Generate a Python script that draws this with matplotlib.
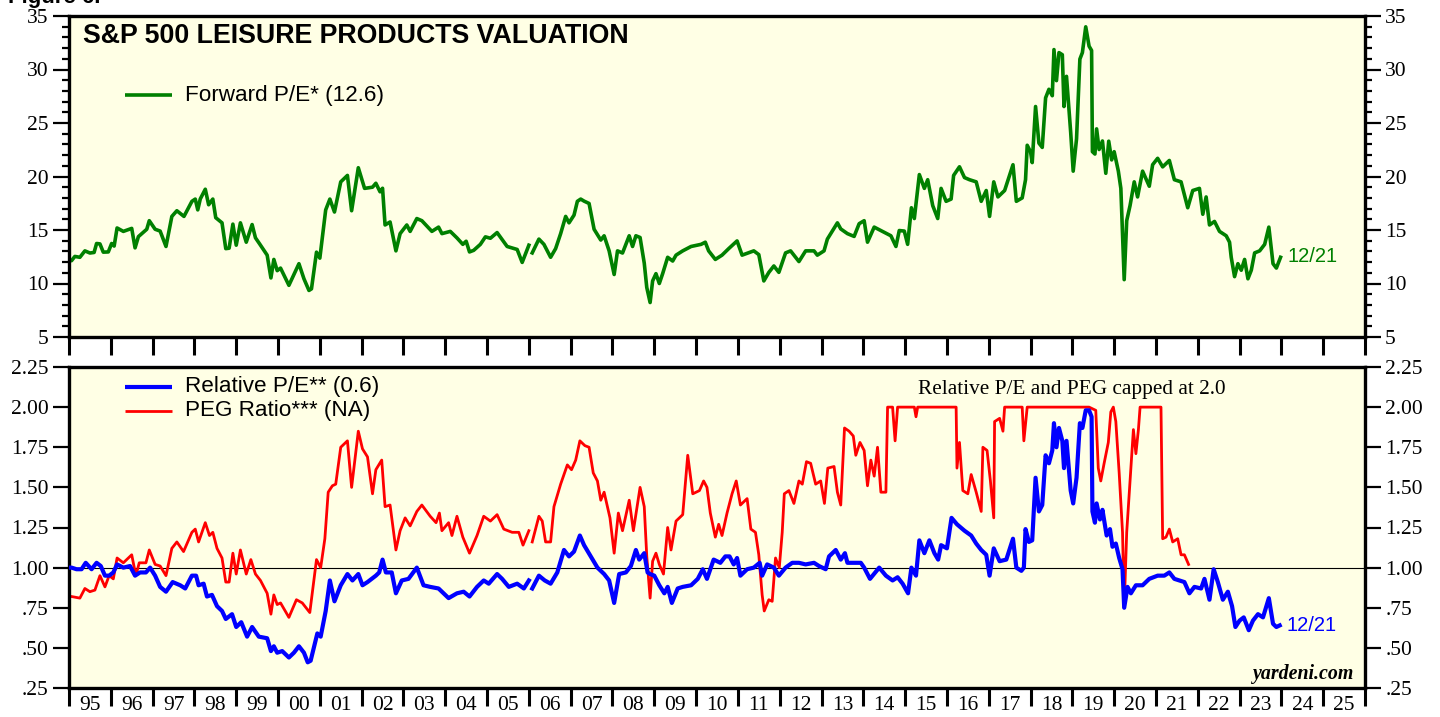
import numpy as np
import matplotlib
matplotlib.use("Agg")
import matplotlib.pyplot as plt
from matplotlib.ticker import MultipleLocator, FixedLocator, NullFormatter, FixedFormatter

nan = float("nan")

# ---------------- data (decimal years) ----------------
fpe_dates = [1995.0, 1995.06, 1995.14, 1995.26, 1995.38, 1995.5, 1995.6, 1995.66, 1995.74, 1995.82, 1995.94,
             1996.02, 1996.08, 1996.15, 1996.3, 1996.5, 1996.58, 1996.66, 1996.86, 1996.92, 1997.06, 1997.18,
             1997.32, 1997.46, 1997.58, 1997.75, 1997.94, 1998.02, 1998.08, 1998.14, 1998.26, 1998.34, 1998.44,
             1998.51, 1998.66, 1998.75, 1998.83, 1998.92, 1999.0, 1999.1, 1999.24, 1999.38, 1999.46, 1999.56,
             1999.74, 1999.83, 1999.9, 1999.98, 2000.06, 2000.26, 2000.38, 2000.5, 2000.62, 2000.74, 2000.8,
             2000.92, 2001.0, 2001.14, 2001.24, 2001.35, 2001.5, 2001.66, 2001.76, 2001.92, 2002.07, 2002.26,
             2002.34, 2002.44, 2002.5, 2002.56, 2002.68, 2002.82, 2002.92, 2003.08, 2003.16, 2003.32, 2003.44,
             2003.68, 2003.84, 2003.92, 2004.12, 2004.28, 2004.42, 2004.5, 2004.58, 2004.68, 2004.84, 2004.96,
             2005.08, 2005.24, 2005.48, 2005.72, 2005.84, 2006.0, 2006.04, 2006.08, 2006.24, 2006.36, 2006.52,
             2006.64, 2006.76, 2006.88, 2006.96, 2007.08, 2007.16, 2007.24, 2007.32, 2007.44, 2007.56, 2007.72,
             2007.8, 2007.92, 2008.04, 2008.12, 2008.24, 2008.4, 2008.48, 2008.56, 2008.66, 2008.76, 2008.82,
             2008.9, 2008.96, 2009.04, 2009.12, 2009.2, 2009.32, 2009.44, 2009.52, 2009.68, 2009.88, 2010.12,
             2010.22, 2010.3, 2010.46, 2010.62, 2010.78, 2010.98, 2011.1, 2011.38, 2011.5, 2011.62, 2011.74,
             2011.86, 2011.98, 2012.14, 2012.26, 2012.46, 2012.62, 2012.82, 2012.9, 2013.06, 2013.14, 2013.38,
             2013.46, 2013.62, 2013.78, 2013.9, 2014.02, 2014.1, 2014.26, 2014.46, 2014.66, 2014.78, 2014.86,
             2014.98, 2015.06, 2015.15, 2015.22, 2015.34, 2015.46, 2015.54, 2015.66, 2015.78, 2015.86, 2015.98,
             2016.1, 2016.16, 2016.3, 2016.42, 2016.54, 2016.7, 2016.82, 2016.94, 2017.02, 2017.12, 2017.22,
             2017.38, 2017.58, 2017.66, 2017.8, 2017.88, 2017.92, 2018.0, 2018.04, 2018.12, 2018.2, 2018.28,
             2018.36, 2018.44, 2018.52, 2018.56, 2018.62, 2018.68, 2018.76, 2018.8, 2018.86, 2018.96, 2019.02,
             2019.1, 2019.18, 2019.24, 2019.32, 2019.4, 2019.46, 2019.48, 2019.54, 2019.58, 2019.64, 2019.72,
             2019.8, 2019.87, 2019.94, 2020.0, 2020.1, 2020.16, 2020.22, 2020.24, 2020.3, 2020.38, 2020.48,
             2020.56, 2020.68, 2020.84, 2020.92, 2021.04, 2021.16, 2021.32, 2021.44, 2021.6, 2021.76, 2021.88,
             2022.04, 2022.12, 2022.2, 2022.28, 2022.4, 2022.52, 2022.68, 2022.76, 2022.8, 2022.88, 2022.96,
             2023.04, 2023.12, 2023.2, 2023.28, 2023.36, 2023.48, 2023.6, 2023.7, 2023.8, 2023.88, 2023.94,
             2023.98]
fpe_values = [12.2, 12.13, 12.53, 12.45, 13.05, 12.85, 12.9, 13.74, 13.7, 12.93, 12.95,
              13.74, 13.5, 15.19, 14.87, 15.15, 13.33, 14.38, 15.07, 15.87, 15.07, 14.9,
              13.46, 16.27, 16.8, 16.27, 17.68, 17.89, 16.88, 17.9, 18.81, 17.36, 17.89,
              16.15, 15.67, 13.26, 13.3, 15.55, 13.58, 15.67, 13.86, 15.51, 14.27, 13.7,
              12.65, 10.52, 12.25, 11.2, 11.44, 9.83, 10.84, 11.85, 10.44, 9.35, 9.5,
              12.93, 12.37, 16.88, 17.89, 16.68, 19.5, 20.1, 16.8, 20.82, 18.89, 19.0,
              19.37, 18.57, 18.9, 15.47, 15.75, 13.05, 14.66, 15.47, 14.87, 16.07, 15.87,
              14.87, 15.27, 14.66, 14.87, 14.26, 13.66, 13.95, 12.95, 13.1, 13.66, 14.36,
              14.23, 14.76, 13.46, 13.18, 11.97, 13.58, nan, 12.86, 14.15, 13.66, 12.45,
              13.26, 14.66, 16.27, 15.67, 16.39, 17.68, 17.89, 17.7, 17.48, 15.07, 14.06,
              14.46, 13.05, 10.84, 13.05, 12.85, 14.46, 13.46, 14.46, 14.3, 11.9, 9.63,
              8.22, 10.24, 10.92, 10.0, 10.92, 12.45, 12.1, 12.65, 13.05, 13.46, 13.66,
              13.86, 13.05, 12.25, 12.65, 13.26, 13.98, 12.65, 13.05, 12.7, 10.24, 11.04,
              11.64, 11.04, 12.86, 13.05, 12.05, 13.05, 13.05, 12.65, 13.05, 14.15, 15.67,
              15.1, 14.66, 14.4, 15.59, 15.87, 13.86, 15.27, 14.87, 14.46, 13.46, 14.95,
              14.9, 13.66, 17.08, 16.07, 20.18, 18.89, 19.7, 17.28, 16.07, 18.89, 17.68,
              17.89, 20.1, 20.91, 19.9, 19.7, 19.5, 17.68, 18.69, 16.27, 19.5, 18.09,
              18.69, 21.1, 17.68, 18.0, 19.7, 22.92, 22.3, 21.3, 26.54, 23.12, 22.72,
              27.35, 28.15, 27.55, 31.86, 28.96, 31.58, 31.38, 26.54, 29.36, 24.13, 20.5,
              23.52, 30.97, 31.58, 33.99, 32.18, 31.78, 22.32, 22.1, 24.45, 22.52, 23.32,
              20.3, 23.3, 21.55, 22.32, 20.5, 18.89, 12.45, 10.36, 15.87, 17.28, 19.5,
              18.09, 20.5, 19.09, 21.1, 21.7, 20.9, 21.5, 19.7, 19.5, 17.08, 18.69,
              18.89, 16.47, 18.09, 15.47, 15.8, 14.87, 14.46, 13.86, 12.45, 10.64, 11.85,
              11.24, 12.25, 10.44, 11.24, 12.86, 13.05, 13.66, 15.27, 11.85, 11.44, 12.05,
              12.45]

rel_dates = [1995.0, 1995.06, 1995.18, 1995.3, 1995.4, 1995.54, 1995.66, 1995.76, 1995.86, 1995.96,
             1996.06, 1996.15, 1996.3, 1996.46, 1996.58, 1996.7, 1996.84, 1996.94, 1997.06, 1997.18,
             1997.32, 1997.48, 1997.66, 1997.78, 1997.94, 1998.04, 1998.1, 1998.22, 1998.3, 1998.42,
             1998.54, 1998.66, 1998.75, 1998.9, 1999.0, 1999.12, 1999.26, 1999.38, 1999.54, 1999.74,
             1999.83, 1999.9, 1999.98, 2000.1, 2000.26, 2000.38, 2000.5, 2000.62, 2000.71, 2000.78,
             2000.94, 2001.02, 2001.14, 2001.24, 2001.35, 2001.5, 2001.66, 2001.78, 2001.92, 2002.02,
             2002.14, 2002.34, 2002.42, 2002.5, 2002.58, 2002.72, 2002.82, 2002.96, 2003.12, 2003.32,
             2003.48, 2003.64, 2003.84, 2004.08, 2004.28, 2004.44, 2004.58, 2004.76, 2004.92, 2005.04,
             2005.24, 2005.36, 2005.52, 2005.72, 2005.88, 2006.0, 2006.04, 2006.08, 2006.24, 2006.38,
             2006.52, 2006.68, 2006.84, 2006.96, 2007.08, 2007.22, 2007.32, 2007.48, 2007.64, 2007.8,
             2007.92, 2008.04, 2008.16, 2008.32, 2008.44, 2008.56, 2008.64, 2008.76, 2008.84, 2008.9,
             2009.0, 2009.12, 2009.24, 2009.32, 2009.42, 2009.56, 2009.68, 2009.88, 2010.04, 2010.16,
             2010.26, 2010.42, 2010.58, 2010.7, 2010.8, 2010.9, 2010.98, 2011.06, 2011.22, 2011.38,
             2011.52, 2011.58, 2011.7, 2011.86, 2011.98, 2012.14, 2012.3, 2012.46, 2012.62, 2012.82,
             2012.94, 2013.1, 2013.18, 2013.34, 2013.46, 2013.56, 2013.62, 2013.78, 2013.94, 2014.02,
             2014.16, 2014.38, 2014.54, 2014.7, 2014.82, 2014.94, 2015.07, 2015.15, 2015.26, 2015.34,
             2015.46, 2015.58, 2015.7, 2015.79, 2015.86, 2016.0, 2016.11, 2016.24, 2016.42, 2016.58,
             2016.7, 2016.82, 2016.94, 2017.02, 2017.12, 2017.26, 2017.42, 2017.58, 2017.66, 2017.78,
             2017.84, 2017.88, 2017.96, 2018.04, 2018.12, 2018.2, 2018.28, 2018.36, 2018.44, 2018.52,
             2018.56, 2018.62, 2018.68, 2018.76, 2018.8, 2018.86, 2018.96, 2019.02, 2019.1, 2019.18,
             2019.24, 2019.32, 2019.4, 2019.46, 2019.48, 2019.54, 2019.58, 2019.66, 2019.72, 2019.82,
             2019.9, 2019.96, 2020.04, 2020.12, 2020.2, 2020.24, 2020.32, 2020.4, 2020.52, 2020.68,
             2020.84, 2021.04, 2021.2, 2021.32, 2021.44, 2021.68, 2021.8, 2021.92, 2022.08, 2022.16,
             2022.28, 2022.38, 2022.48, 2022.6, 2022.72, 2022.82, 2022.9, 2023.0, 2023.1, 2023.22,
             2023.32, 2023.44, 2023.56, 2023.7, 2023.8, 2023.88, 2023.96]
rel_values = [1.0, 1.0, 0.99, 0.99, 1.03, 0.99, 1.03, 1.01, 0.95, 0.95,
              0.97, 1.02, 1.0, 1.01, 0.95, 0.97, 0.97, 1.0, 0.95, 0.88,
              0.85, 0.91, 0.89, 0.87, 0.95, 0.95, 0.89, 0.9, 0.82, 0.83,
              0.76, 0.73, 0.68, 0.71, 0.63, 0.66, 0.57, 0.63, 0.57, 0.56,
              0.48, 0.51, 0.47, 0.48, 0.44, 0.47, 0.51, 0.47, 0.41, 0.42,
              0.59, 0.57, 0.73, 0.92, 0.79, 0.89, 0.96, 0.92, 0.96, 0.89,
              0.91, 0.95, 0.97, 1.05, 0.97, 0.97, 0.84, 0.92, 0.93, 1.0,
              0.89, 0.88, 0.87, 0.81, 0.84, 0.85, 0.82, 0.88, 0.92, 0.9,
              0.96, 0.93, 0.88, 0.9, 0.87, 0.92, nan, 0.87, 0.95, 0.92,
              0.9, 0.97, 1.11, 1.07, 1.1, 1.2, 1.14, 1.07, 1.0, 0.96,
              0.92, 0.78, 0.96, 0.97, 1.01, 1.11, 1.05, 1.09, 0.97, 0.96,
              0.95, 0.89, 0.84, 0.88, 0.78, 0.87, 0.88, 0.89, 0.93, 0.99,
              0.93, 1.05, 1.03, 1.07, 1.07, 1.02, 1.06, 0.95, 0.99, 1.0,
              1.03, 0.95, 1.02, 1.0, 0.95, 1.0, 1.03, 1.03, 1.02, 1.03,
              1.01, 0.99, 1.07, 1.11, 1.05, 1.09, 1.03, 1.03, 1.03, 1.0,
              0.93, 1.0, 0.95, 0.92, 0.94, 0.9, 0.84, 1.0, 0.95, 1.17,
              1.09, 1.17, 1.09, 1.05, 1.14, 1.12, 1.31, 1.27, 1.23, 1.2,
              1.15, 1.11, 1.08, 0.95, 1.12, 1.04, 1.05, 1.18, 1.0, 0.98,
              1.0, 1.24, 1.16, 1.17, 1.56, 1.35, 1.39, 1.7, 1.65, 1.73,
              1.9, 1.75, 1.87, 1.79, 1.62, 1.79, 1.48, 1.4, 1.56, 1.9,
              1.87, 1.98, 1.98, 1.94, 1.35, 1.28, 1.4, 1.3, 1.36, 1.2,
              1.24, 1.13, 1.15, 1.06, 0.99, 0.75, 0.88, 0.84, 0.89, 0.89,
              0.93, 0.95, 0.95, 0.97, 0.93, 0.91, 0.84, 0.88, 0.87, 0.93,
              0.8, 0.99, 0.91, 0.8, 0.85, 0.76, 0.63, 0.67, 0.69, 0.61,
              0.67, 0.71, 0.69, 0.81, 0.65, 0.63, 0.64]

peg_dates = [1995.0, 1995.06, 1995.26, 1995.38, 1995.5, 1995.62, 1995.74, 1995.86, 1995.96, 1996.06,
             1996.15, 1996.3, 1996.5, 1996.6, 1996.68, 1996.84, 1996.92, 1997.06, 1997.18, 1997.32,
             1997.46, 1997.58, 1997.74, 1997.94, 1998.02, 1998.1, 1998.26, 1998.36, 1998.44, 1998.54,
             1998.66, 1998.75, 1998.83, 1998.92, 1999.0, 1999.1, 1999.24, 1999.35, 1999.46, 1999.58,
             1999.74, 1999.83, 1999.9, 1999.98, 2000.06, 2000.26, 2000.44, 2000.58, 2000.76, 2000.92,
             2001.02, 2001.12, 2001.2, 2001.3, 2001.38, 2001.5, 2001.66, 2001.76, 2001.92, 2002.02,
             2002.14, 2002.26, 2002.34, 2002.48, 2002.56, 2002.68, 2002.82, 2002.92, 2003.04, 2003.16,
             2003.32, 2003.44, 2003.64, 2003.78, 2003.86, 2003.92, 2004.08, 2004.16, 2004.28, 2004.42,
             2004.58, 2004.76, 2004.92, 2005.08, 2005.24, 2005.4, 2005.6, 2005.76, 2005.86, 2006.0,
             2006.04, 2006.08, 2006.24, 2006.32, 2006.4, 2006.52, 2006.6, 2006.76, 2006.92, 2007.02,
             2007.12, 2007.22, 2007.34, 2007.44, 2007.54, 2007.64, 2007.72, 2007.8, 2007.94, 2008.04,
             2008.14, 2008.24, 2008.4, 2008.5, 2008.66, 2008.76, 2008.82, 2008.9, 2008.96, 2009.04,
             2009.12, 2009.22, 2009.32, 2009.4, 2009.52, 2009.68, 2009.8, 2009.92, 2010.08, 2010.18,
             2010.26, 2010.34, 2010.46, 2010.54, 2010.62, 2010.74, 2010.86, 2010.96, 2011.06, 2011.22,
             2011.31, 2011.42, 2011.5, 2011.58, 2011.63, 2011.74, 2011.82, 2011.9, 2011.99, 2012.06,
             2012.11, 2012.22, 2012.34, 2012.46, 2012.54, 2012.64, 2012.74, 2012.86, 2012.98, 2013.07,
             2013.15, 2013.3, 2013.38, 2013.46, 2013.55, 2013.66, 2013.76, 2013.82, 2013.92, 2014.02,
             2014.1, 2014.18, 2014.26, 2014.34, 2014.42, 2014.54, 2014.58, 2014.7, 2014.76, 2014.82,
             2015.22, 2015.26, 2015.3, 2016.22, 2016.24, 2016.3, 2016.38, 2016.5, 2016.58, 2016.7,
             2016.82, 2016.86, 2016.96, 2017.04, 2017.12, 2017.14, 2017.26, 2017.34, 2017.38, 2017.8,
             2017.84, 2017.92, 2019.4, 2019.56, 2019.62, 2019.68, 2019.76, 2019.86, 2019.92, 2019.98,
             2020.04, 2020.12, 2020.2, 2020.24, 2020.3, 2020.4, 2020.46, 2020.52, 2020.58, 2020.62,
             2021.12, 2021.16, 2021.24, 2021.32, 2021.4, 2021.52, 2021.6, 2021.68, 2021.78]
peg_values = [0.82, 0.82, 0.81, 0.87, 0.85, 0.86, 0.95, 0.88, 0.95, 0.93,
              1.06, 1.03, 1.08, 0.95, 1.03, 1.03, 1.11, 1.02, 1.01, 0.95,
              1.12, 1.16, 1.1, 1.22, 1.24, 1.16, 1.28, 1.2, 1.22, 1.12,
              1.06, 0.91, 0.91, 1.09, 0.96, 1.11, 0.96, 1.05, 0.96, 0.92,
              0.84, 0.71, 0.83, 0.77, 0.78, 0.69, 0.8, 0.78, 0.72, 1.05,
              1.0, 1.18, 1.47, 1.51, 1.52, 1.75, 1.79, 1.5, 1.85, 1.74,
              1.69, 1.46, 1.61, 1.67, 1.38, 1.39, 1.11, 1.23, 1.31, 1.26,
              1.35, 1.39, 1.32, 1.28, 1.34, 1.23, 1.28, 1.2, 1.32, 1.19,
              1.09, 1.2, 1.32, 1.29, 1.33, 1.24, 1.22, 1.22, 1.14, 1.23,
              nan, 1.16, 1.32, 1.29, 1.16, 1.16, 1.38, 1.52, 1.64, 1.61,
              1.67, 1.79, 1.76, 1.75, 1.59, 1.54, 1.42, 1.47, 1.31, 1.09,
              1.34, 1.23, 1.42, 1.23, 1.5, 1.38, 1.07, 0.81, 1.04, 1.09,
              1.02, 0.96, 1.25, 1.11, 1.29, 1.33, 1.7, 1.46, 1.48, 1.54,
              1.5, 1.34, 1.19, 1.27, 1.2, 1.34, 1.46, 1.54, 1.39, 1.43,
              1.24, 1.22, 1.08, 0.83, 0.73, 0.8, 0.79, 1.06, 1.0, 1.22,
              1.46, 1.48, 1.4, 1.54, 1.52, 1.66, 1.65, 1.52, 1.54, 1.4,
              1.62, 1.63, 1.47, 1.39, 1.87, 1.85, 1.82, 1.7, 1.78, 1.73,
              1.51, 1.67, 1.57, 1.75, 1.47, 1.47, 2.0, 2.0, 1.79, 2.0,
              2.0, 1.94, 2.0, 2.0, 1.62, 1.78, 1.48, 1.46, 1.58, 1.47,
              1.35, 1.75, 1.73, 1.54, 1.31, 1.91, 1.93, 1.85, 2.0, 2.0,
              1.79, 2.0, 2.0, 1.98, 1.62, 1.54, 1.65, 1.78, 1.97, 2.0,
              1.91, 1.59, 1.22, 0.75, 1.22, 1.62, 1.86, 1.71, 1.86, 2.0,
              2.0, 1.18, 1.19, 1.24, 1.16, 1.18, 1.08, 1.08, 1.02]

year_first, year_last = 1995, 2025
top_yticks = [5, 10, 15, 20, 25, 30, 35]
bot_yticks = [0.25, 0.5, 0.75, 1.0, 1.25, 1.5, 1.75, 2.0, 2.25]
bot_ylabels = [".25", ".50", ".75", "1.00", "1.25", "1.50", "1.75", "2.00", "2.25"]

# ---------------- styling ----------------
BG = "#ffffe5"
SERIF = "Liberation Serif"
SANS = "Liberation Sans"
TICK_FS = 15.5

fig = plt.figure(figsize=(14.4, 7.17), dpi=100)
W, H = 1440, 717
def box(l, t, r, b):
    return [l / W, 1 - b / H, (r - l) / W, (b - t) / H]

ax1 = fig.add_axes(box(69, 16, 1365, 337))
ax2 = fig.add_axes(box(69, 367, 1365, 688))

year_edges = list(range(year_first, year_last + 2))
year_mids = [y + 0.5 for y in range(year_first, year_last + 1)]
year_labels = ["%02d" % (y % 100) for y in range(year_first, year_last + 1)]

for ax in (ax1, ax2):
    ax.set_facecolor(BG)
    ax.set_xlim(year_first, year_last + 1)
    for s in ax.spines.values():
        s.set_linewidth(2.4)
    ax.tick_params(axis="y", which="both", left=True, right=True, labelleft=True, labelright=True,
                   direction="out", width=1.6, labelsize=TICK_FS)
    ax.tick_params(axis="y", which="major", length=11.5, pad=3)
    ax.tick_params(axis="y", which="minor", length=5)
    ax.xaxis.set_major_locator(FixedLocator(year_edges))
    ax.xaxis.set_major_formatter(NullFormatter())
    ax.tick_params(axis="x", which="major", direction="out", length=13, width=2.2, top=False, bottom=True)

# top panel
ax1.plot(fpe_dates, fpe_values, color="#008000", lw=2.6, solid_joinstyle="round")
ax1.set_ylim(5, 35)
ax1.yaxis.set_major_locator(FixedLocator(top_yticks))
ax1.yaxis.set_minor_locator(MultipleLocator(1))
ax1.set_yticklabels([str(v) for v in top_yticks], fontfamily=SERIF, fontsize=TICK_FS)
ax1.tick_params(axis="x", which="minor", bottom=False)

ax1.text(0.0105, 0.937, "S&P 500 LEISURE PRODUCTS VALUATION", transform=ax1.transAxes,
         fontfamily=SANS, fontweight="bold", fontsize=19.3, va="center", ha="left")
ax1.plot([1995 + 56 / 41.8, 1995 + 103 / 41.8], [35 - 79 / 10.7] * 2, color="#008000", lw=2.6,
         solid_capstyle="butt")
ax1.text(1995 + 116 / 41.8, 35 - 79 / 10.7, "Forward P/E* (12.6)", fontfamily=SANS, fontsize=16.2,
         va="center", ha="left")
ax1.text(fpe_dates[-1] + 0.17, 12.5, "12/21", color="#008000", fontfamily=SANS, fontsize=14.5,
         va="center", ha="left")

# bottom panel
ax2.axhline(1.0, color="black", lw=0.8, zorder=1)
ax2.plot(peg_dates, peg_values, color="#ff0000", lw=2.0, zorder=2)
ax2.plot(rel_dates, rel_values, color="#0000ff", lw=3.0, zorder=3)
ax2.set_ylim(0.25, 2.25)
ax2.yaxis.set_major_locator(FixedLocator(bot_yticks))
ax2.set_yticklabels(bot_ylabels, fontfamily=SERIF, fontsize=TICK_FS)
ax2.xaxis.set_minor_locator(FixedLocator(year_mids))
ax2.xaxis.set_minor_formatter(FixedFormatter(year_labels))
ax2.tick_params(axis="x", which="minor", length=0, labelsize=TICK_FS, pad=6)
for lab in ax2.get_xticklabels(minor=True):
    lab.set_fontfamily(SERIF)

yl1 = 2.25 - 20 / 160.5
yl2 = 2.25 - 44 / 160.5
ax2.plot([1995 + 56 / 41.8, 1995 + 103 / 41.8], [yl1] * 2, color="#0000ff", lw=3.0, solid_capstyle="butt")
ax2.plot([1995 + 56 / 41.8, 1995 + 103 / 41.8], [yl2] * 2, color="#ff0000", lw=2.0, solid_capstyle="butt")
ax2.text(1995 + 116 / 41.8, yl1, "Relative P/E** (0.6)", fontfamily=SANS, fontsize=16.2, va="center", ha="left")
ax2.text(1995 + 116 / 41.8, yl2, "PEG Ratio*** (NA)", fontfamily=SANS, fontsize=16.2, va="center", ha="left")
ax2.text(1995 + 849 / 41.8, 2.25 - 23 / 160.5, "Relative P/E and PEG capped at 2.0", fontfamily=SERIF,
         fontsize=15.3, va="center", ha="left")
ax2.text(rel_dates[-1] + 0.17, 0.64, "12/21", color="#0000ff", fontfamily=SANS, fontsize=14.5,
         va="center", ha="left")
ax2.text(0.992, 0.045, "yardeni.com", transform=ax2.transAxes, fontfamily=SERIF, fontweight="bold",
         fontstyle="italic", fontsize=14.3, va="center", ha="right")

fig.text(8 / W, 1 - 3 / H, "Figure 6.", fontfamily=SANS, fontweight="bold", fontsize=16,
         va="baseline", ha="left")

fig.savefig("out.png", dpi=100, facecolor="white")
